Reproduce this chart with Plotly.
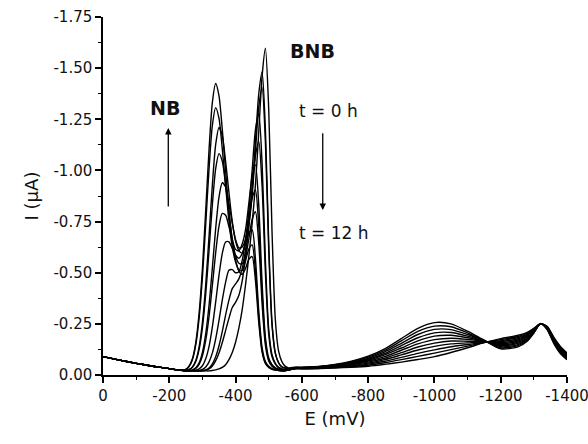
import plotly.graph_objects as go

# ---------------- data ----------------
# Potential grid (mV)
E_HEAD = [0, -50, -100, -150, -200, -230]
E_PEAK = [-250, -260, -270, -280, -290, -300, -310, -320, -330, -340, -350, -360,
          -370, -380, -390, -400, -410, -420, -430, -440, -450, -460, -470, -480,
          -490, -500, -510, -520, -530, -540, -550, -560]
E_TAIL = [-580, -600, -650, -700, -750, -800, -850, -900, -950, -1000, -1050, -1100,
          -1150, -1200, -1250, -1280, -1300, -1320, -1340, -1360, -1380, -1400]

# Cathodic current magnitude (uA); plotted as negative I
HEAD_I = [0.09, 0.073, 0.057, 0.043, 0.031, 0.024]

peak_t00 = [0.02, 0.02, 0.02, 0.02, 0.02, 0.02, 0.02, 0.02, 0.022, 0.025, 0.03, 0.037,
            0.05, 0.075, 0.11, 0.16, 0.23, 0.32, 0.44, 0.58, 0.74, 0.93, 1.19, 1.46,
            1.597, 1.30, 0.70, 0.27, 0.115, 0.064, 0.042, 0.035]
peak_t01 = [0.02, 0.02, 0.02, 0.02, 0.02, 0.02, 0.023, 0.03, 0.044, 0.07, 0.108, 0.159,
            0.218, 0.277, 0.33, 0.355, 0.39, 0.46, 0.58, 0.73, 0.898, 1.142, 1.375, 1.482,
            1.201, 0.648, 0.255, 0.107, 0.06, 0.04, 0.034, 0.031]
peak_t02 = [0.02, 0.02, 0.02, 0.02, 0.02, 0.022, 0.025, 0.034, 0.054, 0.089, 0.143, 0.213,
            0.294, 0.366, 0.422, 0.445, 0.47, 0.52, 0.61, 0.729, 0.876, 1.097, 1.31, 1.406,
            1.139, 0.616, 0.244, 0.106, 0.058, 0.039, 0.033, 0.03]
peak_t03 = [0.02, 0.02, 0.02, 0.02, 0.022, 0.027, 0.039, 0.064, 0.108, 0.177, 0.267, 0.367,
            0.454, 0.512, 0.515, 0.50, 0.505, 0.56, 0.66, 0.80, 1.0, 1.199, 1.279, 1.034,
            0.561, 0.224, 0.099, 0.057, 0.037, 0.03, 0.026, 0.025]
peak_t04 = [0.02, 0.02, 0.021, 0.023, 0.03, 0.045, 0.079, 0.14, 0.235, 0.357, 0.488, 0.595,
            0.65, 0.651, 0.619, 0.586, 0.571, 0.594, 0.656, 0.751, 0.913, 1.072, 1.142, 0.923,
            0.501, 0.201, 0.089, 0.053, 0.035, 0.029, 0.026, 0.025]
peak_t05 = [0.02, 0.021, 0.024, 0.032, 0.052, 0.094, 0.17, 0.287, 0.439, 0.598, 0.728, 0.79,
            0.781, 0.725, 0.662, 0.614, 0.607, 0.64, 0.709, 0.839, 0.972, 1.027, 0.828, 0.45,
            0.184, 0.083, 0.05, 0.035, 0.028, 0.024, 0.023, 0.025]
peak_t06 = [0.02, 0.022, 0.025, 0.035, 0.059, 0.11, 0.202, 0.342, 0.524, 0.717, 0.87, 0.94,
            0.919, 0.838, 0.743, 0.661, 0.622, 0.626, 0.664, 0.761, 0.864, 0.904, 0.728, 0.397,
            0.165, 0.076, 0.047, 0.034, 0.027, 0.023, 0.022, 0.025]
peak_t07 = [0.022, 0.026, 0.038, 0.066, 0.125, 0.232, 0.396, 0.61, 0.834, 1.009, 1.082, 1.044,
            0.929, 0.791, 0.666, 0.583, 0.546, 0.544, 0.578, 0.665, 0.76, 0.798, 0.642, 0.351,
            0.146, 0.069, 0.043, 0.031, 0.026, 0.023, 0.022, 0.025]
peak_t08 = [0.022, 0.027, 0.04, 0.071, 0.137, 0.257, 0.442, 0.68, 0.93, 1.127, 1.21, 1.169,
            1.043, 0.892, 0.75, 0.655, 0.608, 0.596, 0.64, 0.694, 0.709, 0.567, 0.312, 0.134,
            0.066, 0.043, 0.031, 0.026, 0.023, 0.021, 0.022, 0.025]
peak_t09 = [0.028, 0.042, 0.076, 0.148, 0.278, 0.479, 0.738, 1.01, 1.221, 1.307, 1.254, 1.104,
            0.924, 0.752, 0.627, 0.552, 0.513, 0.511, 0.557, 0.616, 0.636, 0.508, 0.281, 0.121,
            0.059, 0.039, 0.029, 0.025, 0.022, 0.02, 0.022, 0.025]
peak_t10 = [0.028, 0.044, 0.081, 0.16, 0.302, 0.522, 0.806, 1.103, 1.333, 1.425, 1.364, 1.198,
            0.996, 0.802, 0.656, 0.563, 0.508, 0.492, 0.521, 0.565, 0.579, 0.461, 0.256, 0.112,
            0.057, 0.037, 0.028, 0.024, 0.022, 0.02, 0.022, 0.025]

tail_t00 = [0.038, 0.038, 0.042, 0.052, 0.068, 0.092, 0.128, 0.178, 0.228, 0.256, 0.250,
            0.214, 0.170, 0.128, 0.136, 0.165, 0.205, 0.252, 0.222, 0.155, 0.105, 0.075]
tail_t01 = [0.037, 0.037, 0.041, 0.050, 0.065, 0.087, 0.120, 0.167, 0.213, 0.239, 0.236,
            0.206, 0.169, 0.133, 0.142, 0.169, 0.207, 0.251, 0.224, 0.158, 0.109, 0.078]
tail_t02 = [0.036, 0.036, 0.040, 0.048, 0.062, 0.082, 0.113, 0.155, 0.198, 0.223, 0.222,
            0.198, 0.168, 0.138, 0.147, 0.174, 0.210, 0.251, 0.225, 0.161, 0.112, 0.082]
tail_t03 = [0.036, 0.036, 0.039, 0.047, 0.059, 0.077, 0.105, 0.144, 0.182, 0.206, 0.208,
            0.190, 0.166, 0.143, 0.153, 0.178, 0.212, 0.251, 0.227, 0.164, 0.116, 0.085]
tail_t04 = [0.035, 0.035, 0.038, 0.045, 0.056, 0.072, 0.098, 0.132, 0.167, 0.190, 0.194,
            0.182, 0.165, 0.148, 0.159, 0.182, 0.214, 0.251, 0.228, 0.167, 0.119, 0.088]
tail_t05 = [0.034, 0.034, 0.037, 0.043, 0.053, 0.068, 0.090, 0.121, 0.152, 0.173, 0.180,
            0.174, 0.164, 0.153, 0.165, 0.187, 0.217, 0.251, 0.230, 0.170, 0.123, 0.092]
tail_t06 = [0.033, 0.033, 0.035, 0.041, 0.050, 0.063, 0.082, 0.109, 0.137, 0.156, 0.166,
            0.165, 0.163, 0.158, 0.170, 0.191, 0.219, 0.251, 0.232, 0.173, 0.126, 0.095]
tail_t07 = [0.032, 0.032, 0.034, 0.039, 0.047, 0.058, 0.075, 0.098, 0.122, 0.140, 0.152,
            0.157, 0.162, 0.163, 0.176, 0.195, 0.221, 0.251, 0.233, 0.176, 0.130, 0.098]
tail_t08 = [0.032, 0.032, 0.033, 0.038, 0.044, 0.053, 0.067, 0.086, 0.106, 0.123, 0.138,
            0.149, 0.160, 0.168, 0.182, 0.199, 0.223, 0.251, 0.235, 0.179, 0.133, 0.101]
tail_t09 = [0.031, 0.031, 0.032, 0.036, 0.041, 0.048, 0.060, 0.075, 0.091, 0.107, 0.124,
            0.141, 0.159, 0.173, 0.187, 0.204, 0.226, 0.251, 0.236, 0.182, 0.137, 0.105]
tail_t10 = [0.030, 0.030, 0.031, 0.034, 0.038, 0.043, 0.052, 0.063, 0.076, 0.090, 0.110,
            0.133, 0.158, 0.178, 0.193, 0.208, 0.228, 0.250, 0.238, 0.185, 0.140, 0.108]

PEAKS = [peak_t00, peak_t01, peak_t02, peak_t03, peak_t04, peak_t05,
         peak_t06, peak_t07, peak_t08, peak_t09, peak_t10]
TAILS = [tail_t00, tail_t01, tail_t02, tail_t03, tail_t04, tail_t05,
         tail_t06, tail_t07, tail_t08, tail_t09, tail_t10]

X_TICKS = [0, -200, -400, -600, -800, -1000, -1200, -1400]
X_TICKTEXT = ["0", "-200", "-400", "-600", "-800", "-1000", "-1200", "-1400"]
X_MINOR = [-100, -300, -500, -700, -900, -1100, -1300]
Y_TICKS = [0, -0.25, -0.5, -0.75, -1.0, -1.25, -1.5, -1.75]
Y_TICKTEXT = ["0.00", "-0.25", "-0.50", "-0.75", "-1.00", "-1.25", "-1.50", "-1.75"]
Y_MINOR = [-0.125, -0.375, -0.625, -0.875, -1.125, -1.375, -1.625]

# ---------------- figure ----------------
E_ALL = E_HEAD + E_PEAK + E_TAIL
fig = go.Figure()
for pk, tl in zip(PEAKS, TAILS):
    mags = HEAD_I + pk + tl
    fig.add_trace(go.Scatter(
        x=E_ALL, y=[-v for v in mags], mode="lines",
        line=dict(color="black", width=1.4, shape="spline", smoothing=0.7),
        showlegend=False, hoverinfo="skip"))

FONT = "DejaVu Sans"
axis_common = dict(
    showline=True, linecolor="black", linewidth=1.5, mirror=False,
    ticks="outside", ticklen=6, tickwidth=1.5, tickcolor="black",
    showgrid=False, zeroline=False, ticklabeloverflow="allow",
    tickfont=dict(family=FONT, size=15, color="#111"),
)

fig.update_layout(
    width=588, height=444,
    margin=dict(l=103, r=21, t=17, b=69, autoexpand=False),
    paper_bgcolor="white", plot_bgcolor="white",
    xaxis=dict(range=[0, -1400], tickmode="array", tickvals=X_TICKS, ticktext=X_TICKTEXT,
               minor=dict(tickmode="array", tickvals=X_MINOR, ticks="outside", ticklen=3.5,
                          tickwidth=1.2, tickcolor="black"),
               title=dict(text="E (mV)", font=dict(family=FONT, size=18, color="#111"), standoff=9),
               **axis_common),
    yaxis=dict(range=[0, -1.75], tickmode="array", tickvals=Y_TICKS, ticktext=Y_TICKTEXT,
               minor=dict(tickmode="array", tickvals=Y_MINOR, ticks="outside", ticklen=3.5,
                          tickwidth=1.2, tickcolor="black"),
               title=dict(text="I (µA)", font=dict(family=FONT, size=18, color="#111"), standoff=10),
               **axis_common),
)

ann_font = dict(family=FONT, size=17, color="#111")
fig.add_annotation(x=-633, y=-1.584, text="<b>BNB</b>", showarrow=False,
                   font=dict(family=FONT, size=19, color="#111"))
fig.add_annotation(x=-187, y=-1.305, text="<b>NB</b>", showarrow=False,
                   font=dict(family=FONT, size=19, color="#111"))
fig.add_annotation(x=-585, y=-1.29, text="t = 0 h", showarrow=False, xanchor="left", font=ann_font)
fig.add_annotation(x=-585, y=-0.694, text="t = 12 h", showarrow=False, xanchor="left", font=ann_font)
# arrows
fig.add_annotation(x=-663, y=-0.806, ax=-663, ay=-1.189, axref="x", ayref="y", xref="x", yref="y",
                   text="", showarrow=True, arrowhead=2, arrowsize=1, arrowwidth=1.3,
                   arrowcolor="black")
fig.add_annotation(x=-197, y=-1.207, ax=-197, ay=-0.816, axref="x", ayref="y", xref="x", yref="y",
                   text="", showarrow=True, arrowhead=2, arrowsize=1, arrowwidth=1.3,
                   arrowcolor="black")

fig.write_html("out.html")
